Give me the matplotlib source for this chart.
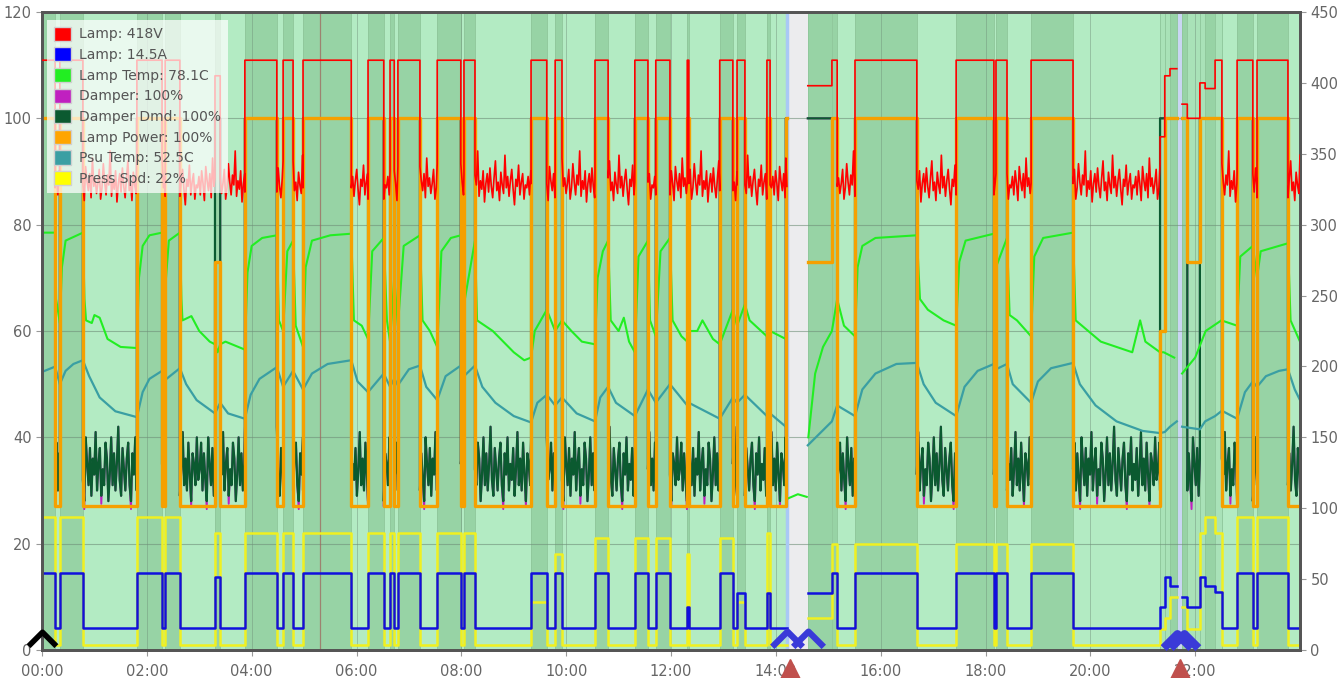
import numpy as np
import matplotlib.pyplot as plt
from matplotlib.patches import Patch
from matplotlib.path import Path

# ---- timeline of machine states (hours since 00:00) ----
seg_edges = [0.00, 0.25, 0.34, 0.78, 1.81, 2.29, 2.35, 2.63, 3.30, 3.40,
             3.87, 4.48, 4.60, 4.79, 4.98, 5.90, 6.22, 6.52, 6.64, 6.72,
             6.79, 7.21, 7.54, 7.99, 8.05, 8.26, 9.33, 9.63, 9.79, 9.92,
             10.55, 10.80, 11.31, 11.56, 11.71, 11.98, 12.31, 12.34, 12.93, 13.18,
             13.26, 13.41, 13.83, 13.89, 14.19, 14.21, 14.61, 15.07, 15.17, 15.51,
             16.69, 17.44, 18.16, 18.20, 18.41, 18.87, 19.67, 21.33, 21.42, 21.52,
             21.65, 21.75, 21.85, 22.09, 22.19, 22.38, 22.51, 22.80, 23.10, 23.18,
             23.77, 24.00]

# 'run' = lamp running but background not shaded
seg_state = ['on', 'off', 'on', 'off', 'on', 'off', 'on', 'off', 'on', 'off',
             'on', 'off', 'on', 'off', 'on', 'off', 'on', 'off', 'on', 'off',
             'on', 'off', 'on', 'off', 'on', 'off', 'on', 'off', 'on', 'off',
             'on', 'off', 'on', 'off', 'on', 'off', 'on', 'off', 'on', 'off',
             'on', 'off', 'on', 'off', 'on', 'gap', 'warm', 'on', 'off', 'on',
             'off', 'on', 'off', 'on', 'off', 'on', 'off', 'run', 'run', 'on',
             'gap2', 'on', 'run', 'run', 'on', 'run', 'off', 'on', 'off', 'on',
             'off']

nan = float('nan')
seg_power = [100, 27, 100, 27, 100, 27, 100, 27, 73, 27,
             100, 27, 100, 27, 100, 27, 100, 27, 100, 27,
             100, 27, 100, 27, 100, 27, 100, 27, 100, 27,
             100, 27, 100, 27, 100, 27, 100, 27, 100, 27,
             100, 27, 100, 27, 100, nan, 73, 100, 27, 100,
             27, 100, 27, 100, 27, 100, 27, 60, 100, 100,
             nan, 100, 73, 100, 100, 100, 27, 100, 27, 100,
             27]

seg_amp = [14.5, 4.1, 14.5, 4.1, 14.5, 4.1, 14.5, 4.1, 13.7, 4.1,
           14.5, 4.1, 14.5, 4.1, 14.5, 4.1, 14.5, 4.1, 14.5, 4.1,
           14.5, 4.1, 14.5, 4.1, 14.5, 4.1, 14.5, 4.1, 14.5, 4.1,
           14.5, 4.1, 14.5, 4.1, 14.5, 4.1, 8.1, 4.1, 14.5, 4.1,
           10.7, 4.1, 10.7, 4.1, 4.1, nan, 10.7, 14.5, 4.1, 14.5,
           4.1, 14.5, 4.1, 14.5, 4.1, 14.5, 4.1, 8.1, 13.7, 12.0,
           nan, 10.0, 8.1, 13.7, 12.0, 11.0, 4.1, 14.5, 4.1, 14.5,
           4.1]

seg_press = [25, 1, 25, 1, 25, 1, 25, 1, 22, 1,
             22, 1, 22, 1, 22, 1, 22, 1, 22, 1,
             22, 1, 22, 1, 22, 1, 9, 1, 18, 1,
             21, 1, 21, 1, 21, 1, 18, 1, 21, 1,
             9, 1, 22, 1, 1, nan, 6, 20, 1, 20,
             1, 20, 1, 20, 1, 20, 1, 4, 6, 10,
             nan, 8, 4, 22, 25, 22, 1, 25, 1, 25,
             1]

# None = idle (noisy) reading
seg_volt = [416, None, 416, None, 416, None, 416, None, 405, None,
            416, None, 416, None, 416, None, 416, None, 416, None,
            416, None, 416, None, 416, None, 416, None, 416, None,
            416, None, 416, None, 416, None, 416, None, 416, None,
            416, None, 416, None, None, nan, 398, 416, None, 416,
            None, 416, None, 416, None, 416, None, 362, 405, 410,
            nan, 385, 375, 400, 396, 416, None, 416, None, 416,
            None]

seg_dmd = [100, None, 100, None, 100, None, 100, None, 100, None,
           100, None, 100, None, 100, None, 100, None, 100, None,
           100, None, 100, None, 100, None, 100, None, 100, None,
           100, None, 100, None, 100, None, 100, None, 100, None,
           100, None, 100, None, 100, nan, 100, 100, None, 100,
           None, 100, None, 100, None, 100, None, 100, 100, 100,
           nan, 100, None, 100, 100, 100, None, 100, None, 100,
           None]

# idle ripple
volt_idle = [326, 334, 321, 338, 329, 317, 341, 331, 324, 336, 319, 347, 327, 333, 322,
             329, 339, 318, 326, 343, 330, 321, 335, 328, 352, 320, 331, 325, 338, 316,
             329, 336, 323, 340, 327, 319, 333, 345, 324, 330, 317, 337, 328, 322, 349,
             326, 334, 320, 331, 339, 325, 314, 332, 327, 342, 321, 330, 336, 318, 328]
dmd_idle = [34, 39, 30, 37, 32, 28, 40, 35, 31, 38, 29, 36, 33, 41, 30, 35, 38, 29, 34, 31,
            39, 36, 28, 33, 40, 31, 37, 30, 35, 42, 32, 29, 38, 34, 30, 36, 39, 31, 28, 37,
            33, 40, 30, 35, 32, 38, 29, 34, 41, 31, 36, 30, 39, 33, 28, 37, 35, 31, 40, 32]
damper_idle = [34, 39, 30, 37, 32, 26.5, 40, 35, 31, 38, 29, 36, 33, 41, 30, 35, 38, 27.5, 34, 31,
               39, 36, 28, 33, 40, 31, 37, 30, 35, 42, 32, 29, 38, 34, 30, 36, 39, 31, 26.5, 37,
               33, 40, 30, 35, 32, 38, 29, 34, 41, 31, 36, 30, 39, 33, 27, 37, 35, 31, 40, 32]

# temperatures
psu_t = [0.00, 0.25, 0.34, 0.45, 0.60, 0.78, 0.90, 1.10, 1.40, 1.81,
         1.92, 2.05, 2.29, 2.35, 2.63, 2.75, 2.95, 3.30, 3.40, 3.55, 3.87,
         3.98, 4.15, 4.48, 4.60, 4.79, 4.98, 5.15, 5.45, 5.90, 6.02, 6.22, 6.52,
         6.64, 6.72, 6.79, 7.00, 7.21, 7.33, 7.54, 7.70, 7.99, 8.05, 8.26, 8.40,
         8.65, 9.00, 9.33, 9.45, 9.63, 9.79, 9.92, 10.20, 10.55, 10.65, 10.80, 10.95,
         11.31, 11.56, 11.71, 11.98, 12.31, 12.34, 12.93, 13.18, 13.26, 13.41, 13.83, 13.89,
         14.19, 14.21, 14.61, 15.07, 15.17, 15.51, 15.65, 15.90, 16.30, 16.69, 16.82, 17.05,
         17.44, 17.60, 17.85, 18.16, 18.20, 18.41, 18.52, 18.87, 19.00, 19.25, 19.67, 19.80,
         20.10, 20.50, 21.00, 21.33, 21.42, 21.52, 21.65, 21.70, 21.75, 22.09, 22.19, 22.38,
         22.51, 22.80, 22.95, 23.10, 23.18, 23.35, 23.60, 23.77, 23.90, 24.00]
psu_v = [52.3, 53.3, 50.0, 52.5, 53.8, 54.5, 51.5, 47.5, 44.9, 43.8,
         48.5, 51.0, 52.5, 50.8, 53.0, 50.0, 47.0, 44.5, 46.5, 44.5, 43.5,
         48.0, 51.0, 53.2, 49.5, 52.5, 49.0, 52.0, 53.8, 54.5, 50.5, 48.5, 52.0,
         49.5, 51.0, 49.8, 52.8, 53.5, 49.5, 47.0, 51.5, 53.5, 51.5, 53.5, 49.5,
         46.5, 44.0, 42.8, 46.5, 48.0, 46.0, 47.5, 44.5, 43.0, 47.5, 49.5, 46.5,
         44.0, 49.0, 46.5, 50.0, 46.0, 46.5, 43.5, 47.5, 46.5, 48.0, 44.0, 44.5,
         42.0, nan, 38.5, 43.0, 46.0, 44.0, 49.0, 52.0, 53.8, 54.0, 50.0, 46.5,
         44.0, 49.5, 52.5, 53.8, 52.8, 53.8, 50.0, 46.5, 50.5, 53.0, 54.0, 50.0,
         46.0, 43.0, 41.2, 40.8, 41.0, 42.0, 43.0, nan, 42.0, 41.5, 43.0, 44.0,
         45.0, 43.5, 48.5, 50.5, 49.5, 51.5, 52.5, 52.8, 49.0, 47.0]

lamp_t = [0.00, 0.25, 0.27, 0.34, 0.38, 0.45, 0.78, 0.81, 0.84, 0.95, 1.00, 1.10, 1.25,
          1.50, 1.81, 1.85, 1.92, 2.05, 2.29, 2.32, 2.35, 2.42, 2.63, 2.66, 2.68, 2.85,
          3.00, 3.20, 3.30, 3.35, 3.40, 3.50, 3.87, 3.92, 4.00, 4.20, 4.48, 4.52, 4.60,
          4.68, 4.79, 4.84, 4.98, 5.03, 5.15, 5.50, 5.90, 5.95, 6.10, 6.22, 6.30, 6.52,
          6.58, 6.64, 6.72, 6.79, 6.90, 7.21, 7.26, 7.40, 7.54, 7.62, 7.80, 7.99, 8.05,
          8.26, 8.30, 8.45, 8.60, 8.80, 9.00, 9.20, 9.33, 9.40, 9.63, 9.79, 9.92, 10.10,
          10.30, 10.55, 10.60, 10.70, 10.80, 10.85, 11.00, 11.10, 11.20, 11.31, 11.38, 11.56,
          11.60, 11.71, 11.80, 11.98, 12.03, 12.20, 12.31, 12.34, 12.50, 12.60, 12.80, 12.93,
          13.18, 13.26, 13.41, 13.50, 13.83, 13.89, 14.19, 14.21, 14.23, 14.42, 14.59, 14.60,
          14.62, 14.75, 14.90, 15.07, 15.17, 15.30, 15.51, 15.56, 15.65, 15.90, 16.69, 16.75,
          16.90, 17.20, 17.44, 17.50, 17.62, 18.16, 18.20, 18.41, 18.46, 18.60, 18.87, 18.93,
          19.10, 19.67, 19.72, 19.90, 20.20, 20.50, 20.80, 20.95, 21.05, 21.33, 21.40, 21.60,
          21.65, 21.75, 22.00, 22.20, 22.50, 22.80, 22.86, 23.10, 23.18, 23.25, 23.77, 23.82,
          24.00]
lamp_v = [78.5, 78.5, 66, 61.5, 72, 77, 78.5, 66, 62, 61.5, 63, 62.5, 58.5,
          57, 56.8, 70, 76, 78, 78.5, 70, 68, 77, 78.5, 66, 62, 62.8,
          60, 58, 57.5, 56, 57.5, 58, 56.5, 71, 76, 77.5, 78, 62, 60,
          75, 77, 61, 57, 72, 77, 78, 78.3, 62, 61, 58.5, 75, 77.5,
          62, 58, 70, 61, 76, 78, 62, 60, 57, 75, 77.5, 78, 65,
          77, 62, 61, 60, 58, 56, 54.5, 55, 60, 64, 60, 62, 60,
          58, 57.5, 70, 75, 77, 62, 60, 62.5, 58, 56, 74, 77,
          62, 59, 75, 77.5, 62, 59, 58, 60, 60, 62, 58.5, 57.5,
          64, 61, 65, 62, 59, 60, 58.5, nan, 28.5, 29.3, 28.8, nan,
          40, 52, 57, 60, 66, 61, 59, 72, 76, 77.5, 78, 66,
          64, 62, 61, 73, 77, 78.3, 72, 77.5, 63, 62, 59, 74,
          77.5, 78.5, 62, 60.5, 58, 57, 56, 62, 58, 56, 56, 55,
          nan, 52, 55, 60, 62, 61, 74, 76, 70, 75, 76.5, 62,
          58]

hour_ticks = list(range(0, 24, 2))
hour_labels = ['%02d:00' % h for h in hour_ticks]

names = ['Lamp: 418V', 'Lamp: 14.5A', 'Lamp Temp: 78.1C', 'Damper: 100%',
         'Damper Dmd: 100%', 'Lamp Power: 100%', 'Psu Temp: 52.5C', 'Press Spd: 22%']
colors = ['#ff0000', '#0000ff', '#22ee22', '#c020c0', '#0b5a30', '#ffa500', '#3a9fa3', '#ffff00']


def step_xy(vals):
    xs, ys = [], []
    for i, v in enumerate(vals):
        xs += [seg_edges[i], seg_edges[i + 1]]
        ys += [v, v]
    return xs, ys


def noisy_xy(vals, idle, dt):
    xs, ys = [], []
    k = 0
    for i, v in enumerate(vals):
        t0, t1 = seg_edges[i], seg_edges[i + 1]
        if v is None:
            for t in np.arange(t0, t1, dt):
                xs.append(t)
                ys.append(idle[k % len(idle)])
                k += 1
            xs.append(t1)
            ys.append(idle[k % len(idle)])
        else:
            xs += [t0, t1]
            ys += [v, v]
    return xs, ys


fig = plt.figure(figsize=(13.39, 6.78), dpi=100)
ax = fig.add_axes([42 / 1339, 28 / 678, 1258 / 1339, 638 / 678])
ax2 = ax.twinx()

# background bands
bg = {'on': '#97d3a5', 'warm': '#97d3a5', 'run': '#a9e2b8', 'off': '#b3ebc3',
      'gap': '#ececee', 'gap2': '#c9d6f2'}
for i, s in enumerate(seg_state):
    ax.axvspan(seg_edges[i], seg_edges[i + 1], facecolor=bg[s], edgecolor='#8fc79b',
               lw=0.6, zorder=0)
ax.axvline(14.21, color='#a9c8f5', lw=2.5, zorder=0.6)
ax.axvline(5.3, color='#a0605a', lw=0.9, alpha=0.7, zorder=0.6)

for y in range(20, 120, 20):
    ax.axhline(y, color='#6f8f79', lw=0.8, alpha=0.6, zorder=0.5)
for h in hour_ticks[1:]:
    ax.axvline(h, color='#6f8f79', lw=0.7, alpha=0.45, zorder=0.5)

x, y = noisy_xy(seg_dmd, damper_idle, 0.027)
ax.plot(x, y, color=colors[3], lw=1.4, zorder=2)
x, y = noisy_xy(seg_dmd, dmd_idle, 0.027)
ax.plot(x, y, color=colors[4], lw=1.6, zorder=2.1)
ax.plot(lamp_t, lamp_v, color=colors[2], lw=1.5, zorder=2.3)
ax.plot(psu_t, psu_v, color=colors[6], lw=1.6, zorder=2.4)
x, y = step_xy(seg_press)
ax.plot(x, y, color='#f0f020', lw=1.8, zorder=2.5)
x, y = step_xy(seg_amp)
ax.plot(x, y, color='#1010dd', lw=1.8, zorder=2.6)
x, y = step_xy(seg_power)
ax.plot(x, y, color='#f5a000', lw=2.4, zorder=2.8)
x, y = noisy_xy(seg_volt, volt_idle, 0.026)
ax2.plot(x, y, color=colors[0], lw=1.2, zorder=3)

# event markers
chev = Path([(-1, -0.55), (0, 0.45), (1, -0.55)], [Path.MOVETO, Path.LINETO, Path.LINETO])
ax2.plot([0.0], [2.2], marker=chev, ms=20, mew=4, mfc='none', mec='black',
         transform=ax.transData, clip_on=False, zorder=5)
ax2.plot([14.21, 14.61], [2.2, 2.2], ls='none', marker=chev, ms=22, mew=4.5, mfc='none',
         mec='#3a3ad8', transform=ax.transData, clip_on=False, zorder=5)
ax2.plot([21.65, 21.78], [1.8, 1.8], ls='none', marker=chev, ms=20, mew=6, mfc='none',
         mec='#3a3ad8', transform=ax.transData, clip_on=False, zorder=5)
ax2.plot([14.27, 21.71], [-4.6, -4.6], ls='none', marker='^', ms=22, color='#c0504d',
         transform=ax.transData, clip_on=False, zorder=5)

ax.set_xlim(0, 24)
ax.set_ylim(0, 120)
ax2.set_ylim(0, 450)
ax.set_xticks(hour_ticks)
ax.set_xticklabels(hour_labels)
ax.set_yticks(range(0, 121, 20))
ax2.set_yticks(range(0, 451, 50))
for a in (ax, ax2):
    a.tick_params(colors='#999999', labelcolor='#666666', labelsize=10.5, length=4)
    for sp in a.spines.values():
        sp.set_color('#555555')
        sp.set_linewidth(2)
ax.tick_params(axis='x', pad=6)

handles = [Patch(facecolor=c, edgecolor='#d0d0d0') for c in colors]
leg = ax2.legend(handles, names, loc='upper left', bbox_to_anchor=(0.004, 0.988),
                 frameon=True, framealpha=0.72, fancybox=False, edgecolor='none',
                 fontsize=10, labelcolor='#555555', handlelength=1.2, handleheight=1.2,
                 handletextpad=0.6, borderpad=0.5, labelspacing=0.42, borderaxespad=0)
leg.set_zorder(10)

fig.savefig('out.png', dpi=100)
